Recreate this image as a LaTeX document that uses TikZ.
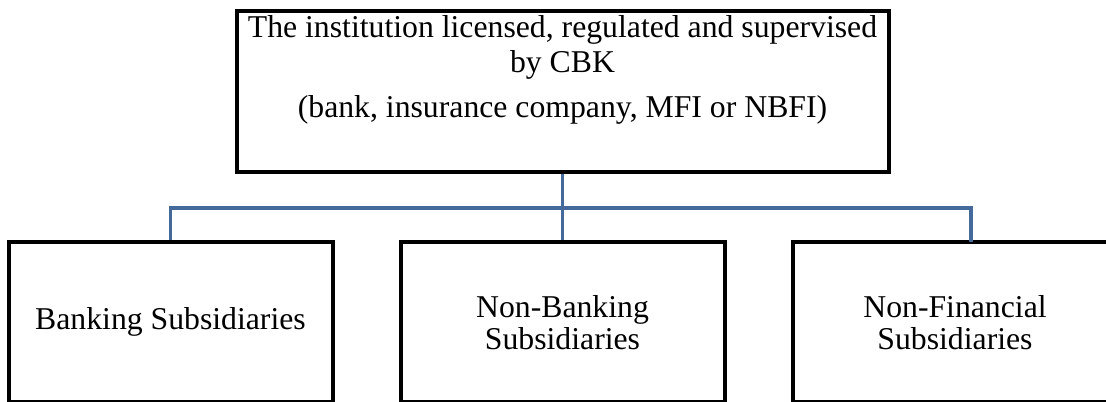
\documentclass[tikz,border=0pt]{standalone}
\usepackage{fontspec}
\setmainfont{Liberation Serif}
\definecolor{linkblue}{RGB}{68,106,155}

\begin{document}
\begin{tikzpicture}[x=0.75pt, y=-0.75pt,
    box/.style={rectangle, draw, line width=3pt, inner sep=0pt, align=center, font=\fontsize{23.8}{24}\selectfont},
    link/.style={draw=linkblue, line width=2.6pt}]
    \useasboundingbox (0, 0) rectangle (1106, 401);

    % 上の箱
    \node[box, minimum width=489pt, minimum height=121pt] (cbk) at (562.5, 91.5) {};
    \node[inner sep=0pt, anchor=north, align=center, font=\fontsize{23.8}{26.2}\selectfont] (cbk_label) at (562.5, 15)
        {The institution licensed, regulated and supervised\\ by CBK\\[8pt] (bank, insurance company, MFI or NBFI)};

    % 下の箱
    \node[box, minimum width=243pt, minimum height=120.4pt] (bank) at (170.5, 322.2) {Banking Subsidiaries};
    \node[box, minimum width=243pt, minimum height=120.4pt] (nonbank) at (562.5, 322.2) {Non-Banking\\ Subsidiaries};
    \node[box, minimum width=243pt, minimum height=120.4pt] (nonfin) at (955, 322.2) {Non-Financial\\ Subsidiaries};

    \coordinate (bus) at (562.5, 208);
    \coordinate (nonfin_top) at (971, 242);

    \draw[link] (cbk.south) -- (bus);
    \draw[link] (bank.north) |- (bus) -| (nonfin_top);
    \draw[link] (bus) -- (nonbank.north);

\end{tikzpicture}
\end{document}
